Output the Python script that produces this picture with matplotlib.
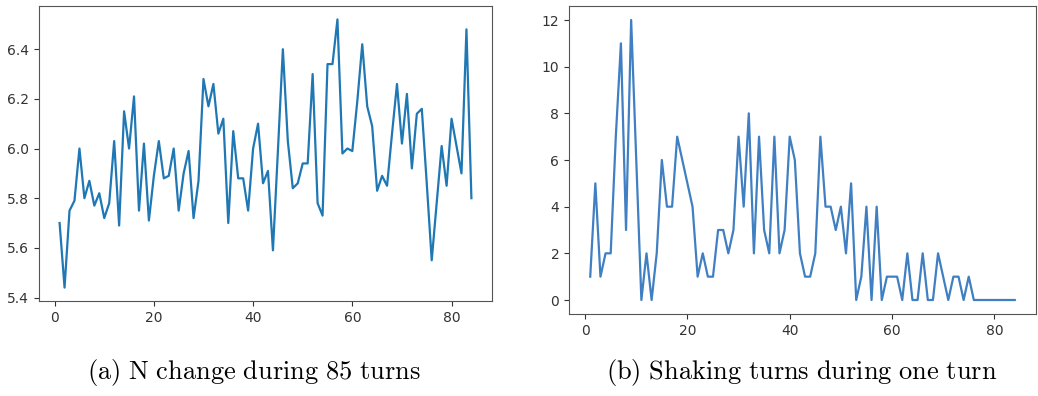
import numpy as np
import matplotlib
matplotlib.use("Agg")
import matplotlib.pyplot as plt

plt.rcParams["mathtext.fontset"] = "cm"

# (a) valor de N en cada turno
turns_a = np.arange(1, 85)
n_values = [5.70, 5.44, 5.75, 5.79, 6.00, 5.80, 5.87, 5.77, 5.82, 5.72,
            5.78, 6.03, 5.69, 6.15, 6.00, 6.21, 5.75, 6.02, 5.71, 5.89,
            6.03, 5.88, 5.89, 6.00, 5.75, 5.90, 5.99, 5.72, 5.87, 6.28,
            6.17, 6.26, 6.06, 6.12, 5.70, 6.07, 5.88, 5.88, 5.75, 6.00,
            6.10, 5.86, 5.91, 5.59, 5.99, 6.40, 6.03, 5.84, 5.86, 5.94,
            5.94, 6.30, 5.78, 5.73, 6.34, 6.34, 6.52, 5.98, 6.00, 5.99,
            6.19, 6.42, 6.17, 6.09, 5.83, 5.89, 5.85, 6.06, 6.26, 6.02,
            6.22, 5.92, 6.14, 6.16, 5.86, 5.55, 5.78, 6.01, 5.85, 6.12,
            6.01, 5.90, 6.48, 5.80]

# (b) turnos de "shaking" en cada turno
turns_b = np.arange(1, 85)
shaking = [1, 5, 1, 2, 2, 7, 11, 3, 12, 6,
           0, 2, 0, 2, 6, 4, 4, 7, 6, 5,
           4, 1, 2, 1, 1, 3, 3, 2, 3, 7,
           4, 8, 2, 7, 3, 2, 7, 2, 3, 7,
           6, 2, 1, 1, 2, 7, 4, 4, 3, 4,
           2, 5, 0, 1, 4, 0, 4, 0, 1, 1,
           1, 0, 2, 0, 0, 2, 0, 0, 2, 1,
           0, 1, 1, 0, 1, 0, 0, 0, 0, 0,
           0, 0, 0, 0]

captions = [r"$\mathrm{(a)\ N\ change\ during\ 85\ turns}$",
            r"$\mathrm{(b)\ Shaking\ turns\ during\ one\ turn}$"]

fig = plt.figure(figsize=(10.38, 3.96), dpi=100)
ax1 = fig.add_axes([39/1038, 1 - 301/396, 453/1038, 295/396])
ax2 = fig.add_axes([569/1038, 1 - 314/396, 467/1038, 308/396])

ax1.plot(turns_a, n_values, color="#1f77b4", linewidth=1.6)
ax1.set_yticks([5.4, 5.6, 5.8, 6.0, 6.2, 6.4])
ax1.set_xticks([0, 20, 40, 60, 80])

ax2.plot(turns_b, shaking, color="#3f7fc2", linewidth=1.6)
ax2.set_yticks([0, 2, 4, 6, 8, 10, 12])
ax2.set_xticks([0, 20, 40, 60, 80])

for ax in (ax1, ax2):
    for s in ax.spines.values():
        s.set_color("#555555")
    ax.tick_params(colors="#333333", labelsize=10)

fig.text(254/1038, 1 - 372/396, captions[0], ha="center", va="center", fontsize=19)
fig.text(802/1038, 1 - 372/396, captions[1], ha="center", va="center", fontsize=19)

fig.savefig("out.png", dpi=100)
